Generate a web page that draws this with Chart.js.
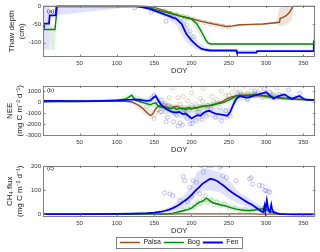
<!DOCTYPE html>
<html>
<head>
<meta charset="utf-8">
<script src="https://cdn.jsdelivr.net/npm/chart.js@4.4.1/dist/chart.umd.min.js"></script>
<style>
html, body { margin: 0; padding: 0; background: #fff; overflow: hidden; }
canvas { position: absolute; left: 0; }
</style>
</head>
<body>
<canvas id="panelA" width="320" height="80" style="top:0px"></canvas>
<canvas id="panelB" width="320" height="80" style="top:80px"></canvas>
<canvas id="panelC" width="320" height="96" style="top:160px"></canvas>
<script>
// ---- tick labels
var doyTicks = [50, 100, 150, 200, 250, 300, 350];
var thawTicks = [-100, -50, 0];
var neeTicks = [-3000, -2000, -1000, 0, 1000];
var ch4Ticks = [0, 100, 200];
var siteNames = ['Palsa', 'Bog', 'Fen'];

// ---- (a) thaw depth, cm
var thawPalsaDay = [1, 140, 150, 160, 170, 175, 185, 200, 212, 225, 237, 247, 255, 265, 280, 296, 310, 318, 319, 322, 326, 329, 332, 336, 366];
var thawPalsa = [0, 0, -3, -9, -16, -21, -27, -34, -41, -47, -52, -56, -54, -51, -50, -49, -46, -44, -33, -31, -27, -22, -15, 0, 0];
var thawBogDay = [1, 17, 18, 19, 20, 135, 144, 152, 162, 175, 185, 200, 207, 212, 216, 219, 222, 226, 363, 364, 366];
var thawBog = [-64, -64, -45, -25, 0, 0, -4, -9, -15, -21, -27, -35, -48, -65, -80, -92, -101, -104, -104, -96, -96];
var thawFenDay = [1, 2, 3, 9, 10, 18, 19, 126, 135, 144, 153, 162, 171, 180, 187, 193, 200, 207, 213, 219, 225, 260, 261, 287, 288, 363, 364, 366];
var thawFen = [-69, -69, -48, -48, -25, -25, 0, 0, -3, -7, -14, -21, -28, -35, -49, -76, -94, -108, -117, -120, -122, -122, -128, -128, -124, -124, -100, -100];

var bandFenDayA = [1, 10, 11, 19, 126, 150, 170, 180, 190, 200, 210, 220, 230, 258, 262, 288, 292, 362, 364, 366];
var bandFenHiA = [0, 0, -20, 0, 0, -8, -20, -28, -40, -72, -100, -114, -119, -119, -121, -121, -120, -120, -40, -40];
var bandFenLoA = [-120, -120, -30, -25, 0, -16, -36, -52, -90, -112, -122, -126, -126, -126, -132, -132, -127, -127, -105, -105];
var bandBogDayA = [1, 10, 11, 17, 18, 20, 135, 180, 200, 210, 218, 226, 366];
var bandBogHiA = [-64, -64, -55, -55, -25, 0, 0, -18, -28, -45, -85, -101, -101];
var bandBogLoA = [-64, -64, -120, -120, -70, 0, 0, -26, -44, -75, -103, -107, -107];
var bandPalsaDayA = [1, 150, 200, 250, 300, 314, 318, 326, 334, 338, 366];
var bandPalsaHiA = [0, -2, -31, -52, -46, -40, -5, 0, 0, 0, 0];
var bandPalsaLoA = [0, -4, -37, -59, -50, -48, -55, -52, -40, 0, 0];

var dotFenDayA = [124, 146, 166, 175];
var dotFenA = [-4, -16, -41, -30];
var dotBogDayA = [172, 180, 186, 190, 194, 198, 203];
var dotBogA = [-20, -26, -33, -40, -52, -68, -84];
var dotPalsaDayA = [165, 172, 180, 188, 195, 203, 210, 218, 226, 234, 242, 250];
var dotPalsaA = [-13, -19, -23, -27, -31, -36, -41, -45, -49, -52, -55, -57];

// ---- (b) NEE, mg C m-2 d-1
var neeDay = [1, 20, 40, 60, 80, 100, 110, 115, 120, 125, 130, 135, 140, 145, 148, 152, 156, 160, 164, 168, 172, 176, 180, 184, 188, 192, 196, 200, 204, 208, 212, 216, 220, 224, 228, 232, 236, 240, 244, 248, 252, 256, 260, 265, 270, 275, 280, 285, 290, 295, 300, 305, 310, 315, 320, 325, 330, 335, 340, 345, 350, 355, 360, 366];
var neePalsa = [50, 50, 50, 50, 60, 60, 70, 50, 0, -150, -330, -600, -950, -1230, -1100, -600, -350, -300, -400, -500, -600, -450, -380, -520, -650, -560, -500, -560, -600, -500, -400, -360, -350, -330, -300, -200, -80, 0, 150, 300, 420, 500, 550, 600, 650, 620, 650, 600, 560, 580, 500, 450, 420, 380, 350, 320, 300, 280, 260, 250, 230, 200, 190, 180];
var neeBog = [30, 40, 50, 60, 100, 150, 250, 400, 620, 150, 50, -50, -150, -250, -150, -80, -400, -500, -450, -550, -600, -500, -650, -600, -550, -700, -600, -650, -500, -550, -450, -400, -350, -300, -250, -200, -150, -100, 0, 100, 250, 400, 550, 600, 550, 600, 650, 700, 680, 600, 550, 500, 450, 420, 380, 350, 320, 280, 250, 230, 220, 200, 190, 180];
var neeFen = [100, 100, 80, 80, 100, 150, 180, 200, 220, 250, 200, 150, 100, 150, 350, 550, 100, -300, -550, -700, -850, -950, -950, -900, -1100, -1050, -1250, -1500, -1350, -1200, -1250, -1000, -850, -800, -950, -1050, -1100, -1150, -1200, -1250, -900, -250, 300, 550, 450, 400, 500, 600, 700, 800, 900, 600, 300, 500, 600, 700, 450, 300, 450, 550, 300, 200, 200, 180];

var bandDayB = [1, 100, 120, 140, 150, 160, 170, 180, 190, 200, 210, 220, 230, 240, 250, 260, 270, 290, 310, 330, 366];
var bandFenHiB = [200, 250, 350, 350, 900, 300, -200, -500, -600, -900, -700, -400, -500, -600, -500, 700, 800, 1000, 800, 800, 250];
var bandFenLoB = [0, 50, 100, -100, 100, -700, -1100, -1400, -1500, -1900, -1700, -1300, -1500, -1600, -1700, -100, 200, 400, 100, 200, 100];
var bandBogHiB = [80, 250, 800, 200, 100, 0, -200, -300, -300, -300, -200, -100, 0, 100, 300, 800, 900, 900, 700, 500, 250];
var bandBogLoB = [0, 50, 400, -400, -500, -600, -800, -900, -1000, -1000, -800, -600, -450, -300, -100, 300, 400, 400, 250, 150, 100];
var bandPalsaHiB = [80, 100, 100, -600, -700, 0, -200, -200, -300, -300, -200, -100, 0, 200, 500, 800, 900, 900, 700, 450, 250];
var bandPalsaLoB = [0, 0, -100, -1300, -1600, -600, -800, -800, -900, -900, -700, -600, -500, -200, 200, 300, 400, 400, 250, 150, 100];

var dotFenDayB = [150, 155, 160, 163, 166, 168, 172, 176, 180, 182, 185, 188, 190, 194, 198, 201, 206, 210, 214, 220, 226, 232, 240, 246, 252, 262, 275, 285, 298, 305, 318, 330, 345];
var dotFenB = [600, -200, -900, -300, -1800, -1400, -500, -1800, -1200, -2200, -1900, -2100, -700, -1500, -2000, -1950, -1700, -900, -1600, -1300, -600, -1400, -1700, -800, -1300, 800, 200, 1000, 1200, 900, 700, 1100, 800];
var dotBogDayB = [130, 140, 146, 155, 160, 165, 170, 178, 185, 192, 200, 208, 215, 222, 230, 238, 250, 258, 265, 275, 285, 295, 310];
var dotBogB = [200, -400, 300, -700, 200, -900, -300, -1000, -200, -1100, -300, -900, 100, -700, 0, -500, 600, 200, 900, 300, 800, 400, 700];
var dotPalsaDayB = [150, 158, 165, 170, 175, 182, 189, 195, 200, 206, 212, 216, 222, 228, 234, 240, 246, 254, 260, 266, 271, 276, 280, 286, 292, 300, 307, 314, 322];
var dotPalsaB = [-1500, -900, -100, 400, 1300, 400, 500, 100, 850, -200, 300, 1250, -300, 500, 200, 1000, 600, 900, 1250, 700, 1450, 800, 1300, 600, 1150, 900, 700, 1300, 600];

// ---- (c) CH4 flux, mg C m-2 d-1
var ch4Day = [1, 50, 100, 120, 130, 140, 150, 155, 160, 165, 170, 175, 180, 185, 190, 195, 200, 205, 210, 215, 220, 225, 230, 235, 240, 245, 250, 255, 260, 265, 270, 275, 280, 285, 290, 294, 296, 298, 299, 301, 303, 305, 307, 308, 310, 314, 318, 325, 340, 366];
var ch4Fen = [1, 1, 2, 3, 4, 5, 7, 9, 11, 15, 20, 26, 34, 43, 55, 66, 80, 98, 112, 128, 138, 148, 145, 138, 126, 115, 101, 90, 80, 70, 60, 50, 42, 32, 20, 12, 9, 36, 12, 58, 20, 10, 40, 22, 10, 5, 2, 1, 0, 0];
var ch4Bog = [0, 0, 0, 1, 1, 1, 2, 2, 2, 2, 3, 5, 8, 12, 16, 20, 26, 38, 50, 55, 68, 56, 46, 43, 38, 36, 30, 26, 22, 19, 17, 16, 16, 18, 21, 22, 22, 21, 20, 18, 16, 13, 11, 9, 6, 3, 2, 1, 0, 0];
var ch4Palsa = [0, 0, 0, 0, 1, 1, 1, 1, 1, 1, 1, 1, 2, 2, 2, 2, 2, 2, 2, 2, 2, 2, 2, 2, 2, 2, 2, 2, 2, 2, 2, 2, 2, 2, 1, 1, 1, 1, 1, 1, 1, 1, 1, 1, 1, 1, 0, 0, 0, 0];

var bandDayC = [1, 140, 160, 175, 190, 200, 207, 216, 225, 238, 251, 264, 278, 290, 300, 310, 320, 366];
var bandFenHiC = [1, 6, 18, 37, 78, 120, 174, 195, 188, 174, 140, 92, 65, 40, 30, 15, 3, 0];
var bandFenLoC = [0, 3, 6, 12, 30, 55, 85, 99, 99, 92, 64, 44, 25, 12, 5, 2, 0, 0];
var bandBogHiC = [0, 2, 3, 7, 22, 35, 55, 60, 75, 55, 45, 32, 28, 28, 28, 15, 2, 0];
var bandBogLoC = [0, 0, 1, 3, 10, 18, 30, 45, 50, 35, 25, 15, 10, 12, 14, 5, 0, 0];

var dotFenDayC = [164, 171, 175, 184, 189, 191, 195, 198, 200, 202, 207, 211, 213, 216, 220, 222, 227, 233, 238, 240, 242, 247, 260, 278, 280, 282, 291, 295, 298, 300, 303, 305];
var dotFenC = [89, 85, 78, 58, 158, 140, 51, 112, 75, 141, 133, 85, 202, 175, 208, 203, 202, 208, 195, 203, 160, 153, 140, 148, 153, 126, 121, 119, 100, 99, 95, 92];
var dotBogDayC = [182, 188, 194, 200, 204, 208, 212, 216, 219, 222, 226, 230, 234, 238, 244, 250, 258, 265, 272, 280, 290, 298, 305];
var dotBogC = [10, 18, 25, 35, 28, 52, 45, 62, 78, 50, 58, 40, 52, 35, 44, 28, 24, 15, 20, 12, 25, 28, 15];

// ---- colours
var FONT = '"Liberation Sans", Arial, sans-serif';
var palsaCol = 'rgb(150,80,30)';
var bogCol = 'rgb(0,140,0)';
var fenCol = 'rgb(0,0,255)';

function pts(xs, ys) {
    var out = [];
    for (var i = 0; i < xs.length; i++) out.push({ x: xs[i], y: ys[i] });
    return out;
}

function lineSet(label, xs, ys, color, width, order) {
    return { label: label, data: pts(xs, ys), borderColor: color, backgroundColor: color,
             borderWidth: width, pointRadius: 0, tension: 0, fill: false, order: order };
}

function dotSet(xs, ys, color) {
    return { label: '_dots', data: pts(xs, ys), showLine: false, pointRadius: 2, pointBorderWidth: 0.7,
             pointBorderColor: color, pointBackgroundColor: 'rgba(0,0,0,0)', borderColor: color, order: 10 };
}

// upper edge then lower edge, lower fills back to upper
function bandSets(xs, hi, lo, color) {
    return [
        { label: '_band', data: pts(xs, hi), borderWidth: 0, pointRadius: 0, fill: false, order: 20 },
        { label: '_band', data: pts(xs, lo), borderWidth: 0, pointRadius: 0, fill: '-1', backgroundColor: color, order: 20 }
    ];
}

// box round the plot, inward ticks, panel letter
var frame = {
    id: 'frame',
    afterDatasetsDraw: function (chart, args, opts) {
        var a = chart.chartArea, ctx = chart.ctx;
        var sx = chart.scales.x, sy = chart.scales.y;
        ctx.save();
        ctx.strokeStyle = '#808080';
        ctx.lineWidth = 1;
        ctx.strokeRect(Math.round(a.left) + 0.5, Math.round(a.top) + 0.5, Math.round(a.right - a.left) - 1, Math.round(a.bottom - a.top) - 1);
        ctx.beginPath();
        sx.ticks.forEach(function (t) {
            var px = Math.round(sx.getPixelForValue(t.value)) + 0.5;
            ctx.moveTo(px, a.top); ctx.lineTo(px, a.top + 2.5);
            ctx.moveTo(px, a.bottom); ctx.lineTo(px, a.bottom - 2.5);
        });
        sy.ticks.forEach(function (t) {
            var py = Math.round(sy.getPixelForValue(t.value)) + 0.5;
            ctx.moveTo(a.left, py); ctx.lineTo(a.left + 2.5, py);
            ctx.moveTo(a.right, py); ctx.lineTo(a.right - 2.5, py);
        });
        ctx.stroke();
        ctx.fillStyle = '#222';
        ctx.font = '6px ' + FONT;
        ctx.textBaseline = 'middle';
        ctx.fillText(opts.text, a.left + 4, a.top + opts.dy);
        ctx.restore();
    }
};

// thin border round the legend entries
var legendBox = {
    id: 'legendBox',
    afterDraw: function (chart) {
        var lg = chart.legend;
        if (!lg || !lg.options.display || !lg.legendHitBoxes.length) return;
        var hb = lg.legendHitBoxes;
        var l = Math.min.apply(null, hb.map(function (h) { return h.left; }));
        var r = Math.max.apply(null, hb.map(function (h) { return h.left + h.width; }));
        var ctx = chart.ctx;
        ctx.save();
        ctx.strokeStyle = '#808080';
        ctx.lineWidth = 1;
        ctx.strokeRect(Math.round(l - 4) + 0.5, Math.round(hb[0].top - 2) + 0.5, Math.round(r - l + 7), 11);
        ctx.restore();
    }
};

function makePanel(id, cfg) {
    var showLegend = !!cfg.legend;
    return new Chart(document.getElementById(id), {
        type: 'line',
        data: { datasets: cfg.datasets },
        plugins: [frame, legendBox],
        options: {
            responsive: false,
            animation: false,
            devicePixelRatio: 1,
            layout: { padding: { top: 5, right: 4, left: 0, bottom: 0 } },
            plugins: {
                tooltip: { enabled: false },
                frame: { text: cfg.letter, dy: cfg.letterDy },
                legend: {
                    display: showLegend,
                    position: 'bottom',
                    fullSize: false,
                    labels: {
                        usePointStyle: true,
                        pointStyle: 'line',
                        pointStyleWidth: 20,
                        padding: 3,
                        color: '#222',
                        font: { family: FONT, size: 7 },
                        filter: function (item) { return siteNames.indexOf(item.text) >= 0; },
                        sort: function (a, b) { return siteNames.indexOf(a.text) - siteNames.indexOf(b.text); }
                    }
                }
            },
            scales: {
                x: {
                    type: 'linear', min: 1, max: 366,
                    grid: { display: false, drawTicks: false },
                    border: { display: false },
                    afterBuildTicks: function (s) { s.ticks = doyTicks.map(function (v) { return { value: v }; }); },
                    afterFit: function (s) { s.height = cfg.xHeight; },
                    ticks: { font: { family: FONT, size: 6 }, color: '#333', padding: 3, maxRotation: 0,
                             callback: function (v) { return String(v); } },
                    title: { display: true, text: 'DOY', color: '#222', font: { family: FONT, size: 7.5 },
                             padding: { top: 0, bottom: cfg.doyPad } }
                },
                y: {
                    type: 'linear', min: cfg.yMin, max: cfg.yMax,
                    grid: { display: false, drawTicks: false },
                    border: { display: false },
                    afterBuildTicks: function (s) { s.ticks = cfg.yTicks.map(function (v) { return { value: v }; }); },
                    afterFit: function (s) { s.width = 43; },
                    ticks: { font: { family: FONT, size: 6 }, color: '#333', padding: 2,
                             callback: function (v) { return String(v); } },
                    title: { display: true, text: cfg.yTitle, color: '#222',
                             font: { family: FONT, size: 8, lineHeight: 1.2 },
                             padding: { top: cfg.yTitlePad, bottom: 0 } }
                }
            }
        }
    });
}

var dsA = [
    lineSet('Fen', thawFenDay, thawFen, fenCol, 1.8, 0),
    lineSet('Bog', thawBogDay, thawBog, bogCol, 1.4, 1),
    lineSet('Palsa', thawPalsaDay, thawPalsa, palsaCol, 1.4, 2),
    dotSet(dotFenDayA, dotFenA, 'rgba(60,60,255,0.5)'),
    dotSet(dotBogDayA, dotBogA, 'rgba(0,140,0,0.4)'),
    dotSet(dotPalsaDayA, dotPalsaA, 'rgba(150,80,30,0.4)')
].concat(bandSets(bandFenDayA, bandFenHiA, bandFenLoA, 'rgba(90,90,255,0.18)'))
 .concat(bandSets(bandBogDayA, bandBogHiA, bandBogLoA, 'rgba(0,150,0,0.13)'))
 .concat(bandSets(bandPalsaDayA, bandPalsaHiA, bandPalsaLoA, 'rgba(160,100,60,0.18)'));

var dsB = [
    lineSet('Fen', neeDay, neeFen, fenCol, 1.8, 0),
    lineSet('Bog', neeDay, neeBog, bogCol, 1.4, 1),
    lineSet('Palsa', neeDay, neePalsa, palsaCol, 1.4, 2),
    dotSet(dotFenDayB, dotFenB, 'rgba(60,60,255,0.45)'),
    dotSet(dotBogDayB, dotBogB, 'rgba(0,140,0,0.35)'),
    dotSet(dotPalsaDayB, dotPalsaB, 'rgba(150,80,30,0.35)')
].concat(bandSets(bandDayB, bandFenHiB, bandFenLoB, 'rgba(90,90,255,0.15)'))
 .concat(bandSets(bandDayB, bandBogHiB, bandBogLoB, 'rgba(0,150,0,0.12)'))
 .concat(bandSets(bandDayB, bandPalsaHiB, bandPalsaLoB, 'rgba(160,100,60,0.14)'));

var dsC = [
    lineSet('Fen', ch4Day, ch4Fen, fenCol, 1.8, 0),
    lineSet('Bog', ch4Day, ch4Bog, bogCol, 1.4, 1),
    lineSet('Palsa', ch4Day, ch4Palsa, palsaCol, 1.4, 2),
    dotSet(dotFenDayC, dotFenC, 'rgba(60,60,255,0.45)'),
    dotSet(dotBogDayC, dotBogC, 'rgba(0,140,0,0.35)')
].concat(bandSets(bandDayC, bandFenHiC, bandFenLoC, 'rgba(90,90,255,0.18)'))
 .concat(bandSets(bandDayC, bandBogHiC, bandBogLoC, 'rgba(0,150,0,0.13)'));

makePanel('panelA', { datasets: dsA, letter: '(a)', letterDy: 6, xHeight: 23, doyPad: 4.5,
    yMin: -140, yMax: 2, yTicks: thawTicks, yTitle: ['Thaw depth', '(cm)'], yTitlePad: 7 });
makePanel('panelB', { datasets: dsB, letter: '(b)', letterDy: 5, xHeight: 24, doyPad: 5.5,
    yMin: -3100, yMax: 1500, yTicks: neeTicks, yTitle: ['NEE', '(mg C m\u207B\u00B2 d\u207B\u00B9)'], yTitlePad: 5 });
makePanel('panelC', { datasets: dsC, letter: '(c)', letterDy: 2.5, xHeight: 19, doyPad: 0.5, legend: true,
    yMin: -11, yMax: 203, yTicks: ch4Ticks, yTitle: ['CH\u2084 flux', '(mg C m\u207B\u00B2 d\u207B\u00B9)'], yTitlePad: 5 });
</script>
</body>
</html>
